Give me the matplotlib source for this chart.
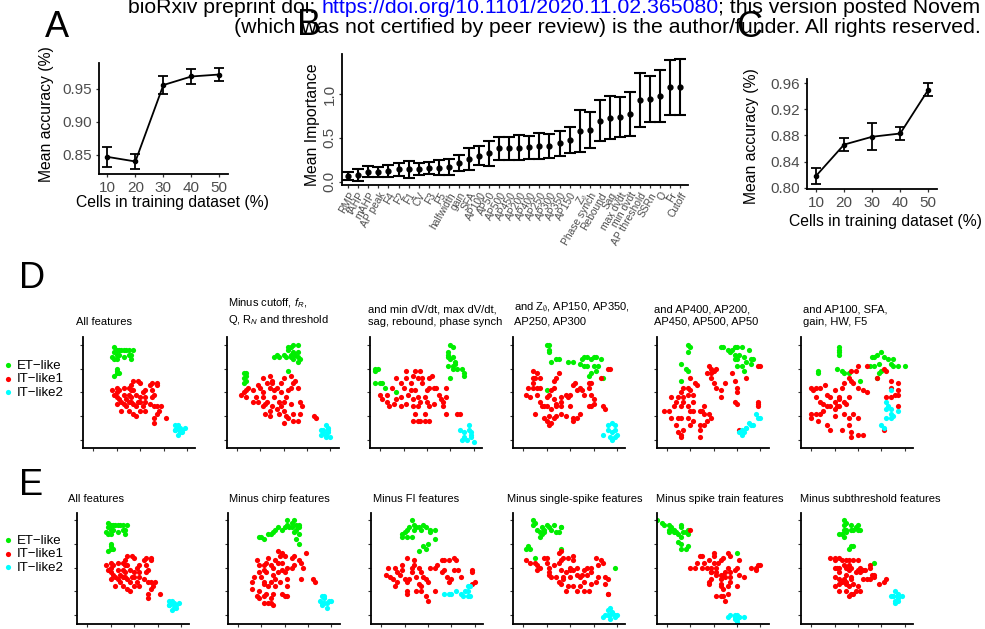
import matplotlib
matplotlib.use('Agg')
import matplotlib.pyplot as plt

plt.rcParams['font.family'] = ['Liberation Sans', 'DejaVu Sans']
plt.rcParams['mathtext.fontset'] = 'custom'
plt.rcParams['mathtext.rm'] = 'Liberation Sans'
plt.rcParams['mathtext.it'] = 'Liberation Sans:italic'

# ---------------- data ----------------
train_pct = [10, 20, 30, 40, 50]
acc_a = [0.847, 0.840, 0.956, 0.969, 0.972]
acc_a_err = [0.015, 0.012, 0.013, 0.012, 0.0095]
acc_c = [0.818, 0.866, 0.878, 0.883, 0.950]
acc_c_err = [0.012, 0.0105, 0.021, 0.010, 0.010]

features = ['RMP', 'fAHP', 'mAHP', 'AP peak', 'F4', 'F2', 'F1', 'CV', 'F3', 'F5',
            'halfwidth', 'gain', 'SFA', 'AP100', 'AP50', 'AP500', 'AP450', 'AP200',
            'AP400', 'AP250', 'AP300', 'AP350', 'AP150', r'Z$_{\emptyset}$',
            'Phase synch', 'Rebound', 'Sag', 'max dvdt', 'min dvdt', 'AP threshold',
            'SSRn', 'Q', 'Fr', 'Cutoff']
importance = [0.065, 0.076, 0.114, 0.114, 0.122, 0.141, 0.141, 0.141, 0.152, 0.160,
              0.171, 0.209, 0.259, 0.297, 0.323, 0.380, 0.380, 0.388, 0.392, 0.407,
              0.407, 0.437, 0.475, 0.578, 0.589, 0.696, 0.730, 0.734, 0.772, 0.932,
              0.943, 0.977, 1.076, 1.076]
importance_err = [0.048, 0.067, 0.061, 0.057, 0.070, 0.076, 0.095, 0.067, 0.070, 0.088,
                  0.090, 0.090, 0.128, 0.112, 0.143, 0.130, 0.133, 0.146, 0.131, 0.143,
                  0.139, 0.145, 0.152, 0.238, 0.209, 0.232, 0.244, 0.228, 0.248, 0.304,
                  0.266, 0.295, 0.314, 0.318]

groups = ['ET', 'IT1', 'IT2']
group_labels = ['ET\u2212like', 'IT\u2212like1', 'IT\u2212like2']
group_colors = ['#00ee00', '#ff0000', '#00ffff']

# t-SNE embeddings (x list, y list) for each cluster
tsne_all = {
    'ET': ([-11, -10, -11, -9, -8, -6, -5, -3, -4, -5, -7, -9, -10, -12, -10, -11, -4, -7, -10, -10, -11, -9, -10],
           [19, 18, 17, 18, 18, 18, 18, 18, 16, 16, 15, 16, 16, 15, 14, 14, 14, 18, 9, 8, 7, 8, 10]),
    'IT1': ([-12, -10, -11, -10, -9, -7, -5, -4, -3, -1, -3, -2, -4, -5, -7, -9, -10, -8, -7, -5, -4, -3, -1, 0, 2, 0, 1, 2, 4, 5,
             7, 7, 5, 6, 5, 4, 6, 7, 8, 7, 6, 6, 2, 1, 0, -2, -3, -5, -8, -6, -10, 2, 9, 11, -4, -6, 0, -2],
            [1, 0, -1, 2, 1, 2, 2, 3, 5, 5, 1, -1, -2, -1, -1, -3, -5, -4, -5, -4, -4, -5, -4, -4, -4, -2, 0, 1, 3, 4,
             4, 3, 1, -1, -2, -5, -6, -6, -8, -9, -11, -13, -8, -6, -8, -10, -9, -8, -8, -6, -2, -2, -6, -11, 1, -3, 4, -6]),
    'IT2': ([15, 16, 17, 19, 15, 17, 18, 15, 17, 16, 18, 16],
            [-14, -15, -15, -15, -16, -17, -17, -16, -16, -14, -16, -18]),
}
tsne_d2 = {
    'ET': ([-3, -4, -2, 0, 1, 2, 3, 4, 6, 4, 5, 6, 7, 6, 4, 3, 2, 3, 6, -17, -16, -16, -17, -16, -17, 2],
           [16, 15, 15, 16, 15, 18, 19, 20, 20, 17, 16, 15, 14, 13, 14, 16, 19, 15, 17, 8, 8, 7, 6, 5, 4, 9]),
    'IT1': ([-18, -17, -16, -16, -15, -13, -12, -11, -10, -9, -9, -7, -8, -9, -11, -13, -9, -7, -6, -5, -6, -4, -3, -4, -2, -3, -5, -6, -8, -6,
             -1, 0, 1, 2, 4, 6, 4, 3, 1, 2, 3, 4, 5, 3, 0, -1, -1, 0, 7, 8, 7, 0, -2, -5, 13, 14, 6],
            [-1, 0, 1, -2, 2, 1, -2, 3, 2, 0, -2, -4, -5, -6, -4, -4, 6, 4, 7, 4, 2, 1, 2, -2, -4, -7, -6, -8, -9, -10,
             -6, -8, -10, -11, -12, -12, -9, -5, -2, 1, 2, 4, 5, 7, 6, 4, 0, -4, -4, -6, -9, -13, -9, 5, -10, -11, 2]),
    'IT2': ([16, 18, 19, 17, 19, 16, 18, 20, 19, 17, 18],
            [-16, -14, -15, -17, -17, -18, -19, -19, -16, -16, -18]),
}
tsne_d3 = {
    'ET': ([-22, -21, -22, -22, -20, -19, -18, -13, 10, 11, 9, 9, 11, 10, 12, 11, 9, 11, 13, 15, 12, 16, 16, 10, 9],
           [10, 10, 9, 4, 4, 4, 2, 0, 20, 19, 17, 15, 15, 14, 13, 11, 11, 10, 10, 10, 12, 8, 7, 6, 16]),
    'IT1': ([-20, -19, -17, -16, -17, -15, -13, -11, -10, -9, -9, -8, -7, -6, -6, -5, -4, -4, -5, -4, -3, -2, -1, 0, 1, 1, 2, 3, 4, 3,
             1, -1, -3, -1, 1, -4, -6, -2, -7, -11, -13, -11, -9, 8, 8, 7, 8, 7, 13, 14, 0, -3, -6, -5, -14, 5, 6],
            [-1, -3, -1, -6, -4, 2, 6, 4, 2, 6, 9, -1, 1, -3, -6, -9, -6, -2, 1, 6, 9, 4, -2, 1, 2, 6, 7, 2, 2, -5,
             -6, -9, -12, -12, -12, -12, -12, 6, 4, -2, -3, -6, -5, 2, -2, -6, -9, -4, -9, -9, -4, -4, 7, 9, -5, -1, -3]),
    'IT2': ([14, 18, 16, 19, 19, 15, 17, 20, 18, 16, 19],
            [-16, -14, -17, -18, -19, -20, -20, -21, -16, -19, -17]),
}
tsne_d4 = {
    'ET': ([-10, -9, -9, -9, -8, -6, -5, -1, 1, 4, 5, 6, 7, 9, 10, 11, 13, 12, 11, 10, 7, 9, 8, 14, 6, -10],
           [20, 20, 18, 17, 13, 14, 14, 13, 13, 12, 14, 15, 15, 14, 15, 15, 14, 11, 9, 11, 11, 8, 7, 6, 11, 1]),
    'IT1': ([-19, -17, -18, -16, -14, -13, -16, -15, -16, -16, -14, -13, -14, -13, -12, -11, -10, -10, -9, -8, -7, -7, -6, -5, -7, -6, -6, -4, -4, -8,
             -9, -11, -10, -9, -8, -7, -6, -4, -2, 0, 1, 1, 3, 4, 3, 2, 1, 0, -1, -2, 5, 4, 6, 8, 9, 9, 10, 10, 9, 8,
             8, 13, 16, 17, 14, 15, -15, -4],
            [-1, -2, 2, 2, 2, 2, 4, 6, 9, 6, 8, 6, -1, -4, -6, -6, -6, -2, -1, 1, 2, 5, 6, 8, -3, -5, -6, -4, -2, -7,
             -10, -11, -12, -14, -13, -11, -10, -9, -10, -6, -11, -12, -11, -9, 1, 4, 3, -1, -2, -1, 1, 2, -1, 2, 4, -1, -3, -5, -6, -6,
             4, 6, 10, 10, -6, -7, -9, -6]),
    'IT2': ([14, 16, 18, 19, 16, 18, 19, 19, 17, 18, 20],
            [-18, -14, -13, -14, -16, -17, -16, -19, -19, -20, -18]),
}
tsne_d5 = {
    'ET': ([-11, -10, -11, -14, -12, -11, -14, 3, 4, 6, 7, 8, 9, 10, 12, 15, 9, 11, 9, 10, 13, 14, 16, 17, 10, 12, 13, 16],
           [20, 19, 17, 12, 10, 9, 5, 19, 19, 18, 17, 18, 19, 19, 19, 18, 16, 16, 14, 14, 15, 13, 14, 14, 11, 11, 9, 12]),
    'IT1': ([-21, -19, -18, -17, -16, -15, -14, -13, -14, -13, -11, -11, -10, -9, -9, -11, -10, -9, -6, -5, -4, -4, -2, -1, -3, -4, -6, -6, -6, -9,
             -10, -11, -14, -15, -16, -15, -14, -14, -13, -18, -13, -10, -8, -7, -3, -2, -1, -1, 0, 1, -1, 0, 1, 3, 3, 5, 8, 9, 10, 10,
             9, 10, 14, 19, 20, 19, 19, 19, 11],
            [-8, -8, -2, -6, -4, -2, 0, -4, -6, 2, 2, -1, 1, -1, -4, -6, -8, -8, -8, -8, -6, -9, -9, -11, -12, -14, -14, -16, -19, -12,
             -14, -11, -11, -11, -14, -17, -18, -19, -16, -11, -2, 6, 4, 3, 8, 11, 10, 8, 9, 10, 6, 4, 2, 1, -2, 4, 8, 5, 2, 0,
             -4, -5, 6, 11, 11, -4, -5, -6, -16]),
    'IT2': ([12, 12, 13, 14, 16, 17, 19, 20, 18, 15, 14, 11],
            [-16, -18, -17, -15, -14, -14, -11, -11, -9, -13, -15, -17]),
}
tsne_d6 = {
    'ET': ([-8, -8, -8, -8, -17, -17, -9, -7, -6, -4, 1, 6, 7, 8, 10, 11, 13, 15, 17, 20, 15, 14, 9, 10, 8, 9, 5, 7],
           [19, 18, 17, 16, 9, 8, 10, 9, 8, 8, 5, 15, 15, 16, 17, 15, 14, 14, 11, 11, 11, 12, 12, 9, 6, 8, 11, 11]),
    'IT1': ([-20, -18, -16, -14, -19, -18, -16, -15, -13, -12, -10, -10, -8, -8, -9, -10, -12, -13, -15, -16, -18, -20, -20, -17, -13, -12, -7, -4, -3, -3,
             0, 2, -4, -2, 0, -6, -6, -4, -7, -6, -4, -3, -1, 0, 4, -3, -2, 0, 2, 4, 8, 12, 14, 14, 17, 17, 17, 16, 17, 14,
             12, -5, -10, -8, 11, 11],
            [2, 2, 2, 3, 1, -2, -4, -5, -1, -2, 1, -4, -3, -6, -6, -7, -6, -6, -8, -9, -9, -9, -11, -12, -14, -16, -16, -14, -17, -19,
             -18, -18, -11, -9, -11, -9, -4, -2, 2, 4, 6, 9, 9, 11, 11, 5, 4, 2, 1, 0, 6, 9, 5, 2, 4, 1, -1, -1, -6, -2,
             -2, -5, -10, -2, -16, 10]),
    'IT2': ([14, 12, 13, 12, 14, 15, 17, 12, 14, 10, 11, 14],
            [1, -4, -6, -7, -9, -10, -8, -11, -11, -14, -15, -7]),
}
tsne_e2 = {
    'ET': ([-11, -10, -9, -7, -5, -4, -3, -1, 0, 1, 1, 3, 4, 5, 3, 2, 6, 6, 5, 4, 6, 5, 6, -6],
           [13, 13, 12, 14, 15, 16, 17, 16, 17, 18, 20, 19, 20, 18, 17, 17, 18, 17, 16, 15, 14, 12, 10, 14]),
    'IT1': ([-14, -14, -13, -12, -11, -11, -10, -9, -9, -11, -12, -11, -9, -8, -7, -6, -8, -9, -8, -7, -6, -5, -5, -4, -3, -2, -3, -1, 0, -1,
             -1, -3, 0, 1, 3, 4, 3, 4, 6, 7, 9, 8, 7, 1, 1, -1, 0, 1, -2, -4, -5, -6, -7, -9, -6, -5, 12, 13, -9, -4],
            [-6, -9, -4, 3, 1, -2, -4, -6, -7, -10, -12, -13, -12, -11, -8, -6, -2, -1, 2, 4, 1, 0, -3, -5, 2, 5, 7, 6, 5, 2,
             -1, -2, -2, 0, 0, 1, 4, 5, 3, 2, 6, 0, -5, -5, -8, -11, -12, -12, -6, -8, -11, -13, -15, -15, -15, -16, -5, -6, 1, 3]),
    'IT2': ([16, 17, 19, 20, 17, 16, 16, 18, 15, 17, 18],
            [-12, -13, -14, -14, -15, -15, -16, -17, -14, -12, -15]),
}
tsne_e3 = {
    'ET': ([-7, -6, -8, -9, -11, -11, -9, -7, -6, -4, -3, -2, -1, 1, 1, 3, 3, 0, -1, -2, -4, -5, -10],
           [20, 18, 17, 16, 14, 13, 13, 13, 16, 17, 16, 18, 17, 15, 16, 16, 12, 10, 8, 9, 7, 17, 15]),
    'IT1': ([-18, -17, -16, -15, -14, -13, -12, -11, -11, -10, -9, -9, -8, -7, -7, -6, -5, -4, -5, -3, -3, -2, -1, 0, 1, 3, 4, 6, 7, 9,
             11, 12, 7, 6, 8, 9, 10, 14, 13, 11, 19, 19, 20, 19, -1, 0, 3, -9, -6, -14, -13, -3, -9, -4],
            [-3, 0, -4, -5, -8, -2, -3, -1, 1, -5, -6, -10, -5, -2, 0, 1, -4, -7, -10, -8, -2, -4, -5, -6, 0, 0, 1, 3, 3, 3,
             4, 3, -1, -2, -4, -6, -5, -4, -1, -1, -1, -2, -6, -7, -12, -14, -10, 4, 3, 0, -6, -10, -11, 0]),
    'IT2': ([7, 9, 10, 12, 14, 16, 17, 18, 17, 18, 17, 15],
            [-11, -11, -11, -10, -11, -10, -8, -8, -10, -12, -12, -12]),
}
tsne_e4 = {
    'ET': ([-16, -15, -16, -14, -13, -12, -11, -11, -12, -13, -10, -9, -8, -7, -6, -5, -4, -4, -19, -18, -17, -15, -4, 19],
           [20, 19, 18, 16, 15, 17, 16, 15, 14, 13, 18, 17, 16, 18, 15, 15, 17, 17, 8, 9, 8, 4, 8, 0]),
    'IT1': ([-19, -17, -15, -14, -13, -14, -11, -10, -10, -9, -9, -9, -8, -7, -6, -5, -4, -5, -4, -3, -1, 1, 1, 0, 0, -2, -4, -3, -3, -2,
             -1, 0, 1, 3, 3, 1, 3, 4, 5, 6, 7, 9, 7, 6, 6, 8, 9, 11, 12, 11, 13, 14, 12, 15, 16, 15, 16, 16, 4, -4,
             -5, 9],
            [3, 2, 2, 1, 0, -1, 4, 4, 2, 0, -2, -3, -4, 1, -4, -6, -7, 2, 3, 4, 4, 5, 3, 0, -1, -2, -1, -4, -5, -10,
             -8, -4, -1, -3, 0, -8, -10, -4, -3, -1, 0, 0, -3, -6, -10, -10, -7, -6, -4, 4, 3, 2, 1, -4, -5, -7, -11, -11, -8, 7,
             6, -2]),
    'IT2': ([14, 15, 16, 17, 18, 19, 20, 19, 17, 16, 17],
            [-21, -20, -18, -17, -19, -20, -20, -21, -22, -20, -20]),
}
tsne_e5 = {
    'ET': ([-22, -21, -19, -18, -19, -17, -19, -16, -15, -14, -14, -13, -11, -11, -12, -14, -15, -14, -14, -12, -11, 10, -24, -17],
           [19, 18, 18, 17, 15, 16, 16, 15, 14, 18, 17, 15, 16, 14, 15, 13, 11, 10, 8, 8, 9, 6, 20, 15]),
    'IT1': ([-10, -10, -8, -7, -6, -5, -4, -3, -2, -1, 0, 0, 0, 1, 1, 2, 3, 4, 6, 7, 6, 5, 4, 3, 1, -1, -1, -2, -2, -1,
             -5, 3, 3, 3, 4, 6, 7, 7, 9, 10, 11, 11, 13, 7, 10, 6, 4, 5, 3, 1, 16, 18, 19, 20, 18, 5],
            [16, 0, 0, 2, 5, 5, 2, 0, 3, 0, 6, 5, 2, 0, -2, 2, 3, 4, 6, 5, 0, -2, -3, -3, -3, -2, -5, -6, -7, -2,
             0, -5, -7, -8, -9, -8, -4, -2, -1, 0, 3, -3, -4, -6, -8, -11, -12, -14, -12, -12, 0, 0, 1, 1, -1, -4]),
    'IT2': ([6, 7, 9, 10, 9, 10, 11, 13, 10, 9, 11],
            [-21, -20, -20, -20, -21, -22, -21, -21, -23, -22, -21]),
}
tsne_e6 = {
    'ET': ([-6, -5, -6, -6, -8, -7, -6, -5, -3, -3, -2, -1, 0, 1, 0, -4, -3, -2, 7, -5],
           [20, 19, 18, 16, 14, 14, 13, 16, 16, 18, 16, 17, 16, 16, 18, 8, 9, 9, 2, 15]),
    'IT1': ([-12, -10, -10, -8, -7, -5, -4, -2, 0, -10, -9, -8, -8, -6, -5, -4, -4, -3, -1, 0, 1, 2, 3, 5, 5, 6, 7, 7, 5, 4,
             -10, -8, -7, -8, -10, -8, -5, -4, -3, -2, -1, 1, 0, -2, -3, -3, -5, -6, -5, -5, 9, 11, 12, 1, -4, 2],
            [4, 3, 4, 4, 3, 3, 3, 3, 3, 0, 0, 0, -2, 1, 0, -1, 1, 0, -2, -1, 0, -1, -1, 0, 1, -3, -4, -3, -5, -5,
             -4, -5, -6, -7, -8, -10, -10, -12, -11, -11, -10, -10, -8, -7, -5, -4, -3, -5, -7, -6, -7, -6, -5, -2, -8, -5]),
    'IT2': ([15, 15, 16, 17, 17, 19, 17, 16, 16, 17, 14],
            [-12, -12, -10, -11, -12, -12, -13, -14, -15, -14, -12]),
}

titles_d = ['All features',
            'Minus cutoff, $f_{R}$,\nQ, R$_{N}$ and threshold',
            'and min dV/dt, max dV/dt,\nsag, rebound, phase synch',
            'and Z$_{\\emptyset}$, AP150, AP350,\nAP250, AP300',
            'and AP400, AP200,\nAP450, AP500, AP50',
            'and AP100, SFA,\ngain, HW, F5']
titles_e = ['All features', 'Minus chirp features', 'Minus FI features',
            'Minus single-spike features', 'Minus spike train features',
            'Minus subthreshold features']
panels_d = [tsne_all, tsne_d2, tsne_d3, tsne_d4, tsne_d5, tsne_d6]
panels_e = [tsne_all, tsne_e2, tsne_e3, tsne_e4, tsne_e5, tsne_e6]

# ---------------- figure ----------------
W, H = 985, 629
fig = plt.figure(figsize=(W / 100, H / 100), dpi=100)
grey = '#4d4d4d'


def rect(left, top, width, height):
    return [left / W, 1 - (top + height) / H, width / W, height / H]


def classic(ax):
    for s in ['top', 'right']:
        ax.spines[s].set_visible(False)
    for s in ['left', 'bottom']:
        ax.spines[s].set_linewidth(1.3)
    ax.tick_params(length=2.5, width=0.9, color='#333333', labelcolor=grey,
                   labelsize=11, pad=2.5)


# A
axA = fig.add_axes(rect(99.3, 63.3, 128.4, 110.7))
axA.errorbar(train_pct, acc_a, yerr=acc_a_err, color='black', lw=1.3,
             marker='o', ms=3, capsize=3.5, capthick=1.3)
axA.set_xlim(7.1, 53)
axA.set_ylim(0.821, 0.989)
axA.set_xticks(train_pct)
axA.set_yticks([0.85, 0.90, 0.95])
classic(axA)

# C
axC = fig.add_axes(rect(807.3, 79.3, 129.4, 109.7))
axC.errorbar(train_pct, acc_c, yerr=acc_c_err, color='black', lw=1.3,
             marker='o', ms=3, capsize=3.5, capthick=1.3)
axC.set_xlim(6.9, 53)
axC.set_ylim(0.798, 0.966)
axC.set_xticks(train_pct)
axC.set_yticks([0.80, 0.84, 0.88, 0.92, 0.96])
classic(axC)

# B
axB = fig.add_axes(rect(341.7, 54, 346.6, 131))
pos = list(range(1, len(features) + 1))
axB.errorbar(pos, importance, yerr=importance_err, fmt='o', color='black',
             ms=3.5, lw=1.5, capsize=4, capthick=1.5)
axB.set_xlim(0.35, 34.8)
axB.set_ylim(-0.038, 1.456)
axB.set_yticks([0.0, 0.5, 1.0])
axB.set_xticks(pos)
classic(axB)
axB.tick_params(axis='y', labelrotation=90, pad=1)
for lab in axB.get_yticklabels():
    lab.set_va('center')
axB.set_xticklabels(features, rotation=60, ha='right', va='top',
                    rotation_mode='anchor', fontsize=7.4)
axB.tick_params(axis='x', pad=1.5)

# axis titles
fig.text(46.7 / W, 1 - 114 / H, 'Mean accuracy (%)', rotation=90,
         ha='center', va='center', fontsize=11.3)
fig.text(172.5 / W, 1 - 202.7 / H, 'Cells in training dataset (%)',
         ha='center', va='center', fontsize=11.3)
fig.text(312 / W, 1 - 125 / H, 'Mean Importance', rotation=90,
         ha='center', va='center', fontsize=11.3)
fig.text(751.7 / W, 1 - 136.5 / H, 'Mean accuracy (%)', rotation=90,
         ha='center', va='center', fontsize=11.3)
fig.text(885.5 / W, 1 - 221.7 / H, 'Cells in training dataset (%)',
         ha='center', va='center', fontsize=11.3)


# t-SNE rows
def tsne_axes(left, top, data, title, tx, ty):
    ax = fig.add_axes(rect(left, top, 112, 111))
    handles = []
    for g, c in zip(groups, group_colors):
        xs, ys = data[g]
        handles.append(ax.scatter(xs, ys, s=14, color=c, linewidths=0))
    ax.set_xlim(-24.3, 23.5)
    ax.set_ylim(-23.7, 23.3)
    ax.set_xticks([-20, -10, 0, 10, 20])
    ax.set_yticks([-20, -10, 0, 10, 20])
    for s in ['top', 'right']:
        ax.spines[s].set_visible(False)
    for s in ['left', 'bottom']:
        ax.spines[s].set_linewidth(1.3)
    ax.tick_params(length=2.5, width=0.8, color='#333333',
                   labelbottom=False, labelleft=False)
    fig.text(tx / W, 1 - ty / H, title, ha='left', va='bottom', fontsize=8,
             linespacing=1.25)
    return handles


d_left = [83.3, 226.7, 370, 513.3, 656.7, 801]
d_title_x = [76, 227.7, 367.7, 514.3, 654, 803.3]
e_left = [77.3, 227.7, 371, 513.3, 656.7, 801]
e_title_x = [68.3, 228.7, 372.7, 507.3, 655.7, 800]

hd = None
for i in range(6):
    h = tsne_axes(d_left[i], 337.3, panels_d[i], titles_d[i], d_title_x[i], 327)
    if i == 0:
        hd = h
for i in range(6):
    tsne_axes(e_left[i], 512.5, panels_e[i], titles_e[i], e_title_x[i], 504.5)

for top in [359.5, 534.5]:
    fig.legend(hd, group_labels, loc='upper left',
               bbox_to_anchor=(4.3 / W, 1 - top / H), frameon=False,
               fontsize=9.5, handlelength=0.6, handletextpad=0.35,
               labelspacing=0.1, borderpad=0, borderaxespad=0,
               scatterpoints=1)

# panel letters
for letter, x, y in [('A', 45, 37), ('B', 297, 35), ('C', 736, 37),
                     ('D', 19, 288), ('E', 19, 495)]:
    fig.text(x / W, 1 - y / H, letter, fontsize=26, va='baseline', ha='left')

# preprint header
t1 = fig.text(128 / W, 1 - 13.3 / H, 'bioRxiv preprint doi: ', fontsize=15.3,
              va='baseline', ha='left')
t2 = axA.annotate('https://doi.org/10.1101/2020.11.02.365080', xy=(1, 0),
                  xycoords=t1, va='bottom', ha='left', fontsize=15.3,
                  color='#0000ff', annotation_clip=False)
axA.annotate('; this version posted Novem', xy=(1, 0),
             xycoords=t2, va='bottom', ha='left', fontsize=15.3,
             annotation_clip=False)
fig.text(233.5 / W, 1 - 33.3 / H,
         '(which was not certified by peer review) is the author/funder. '
         'All rights reserved.', fontsize=15.3, va='baseline', ha='left')

fig.savefig('out.png', dpi=100)
